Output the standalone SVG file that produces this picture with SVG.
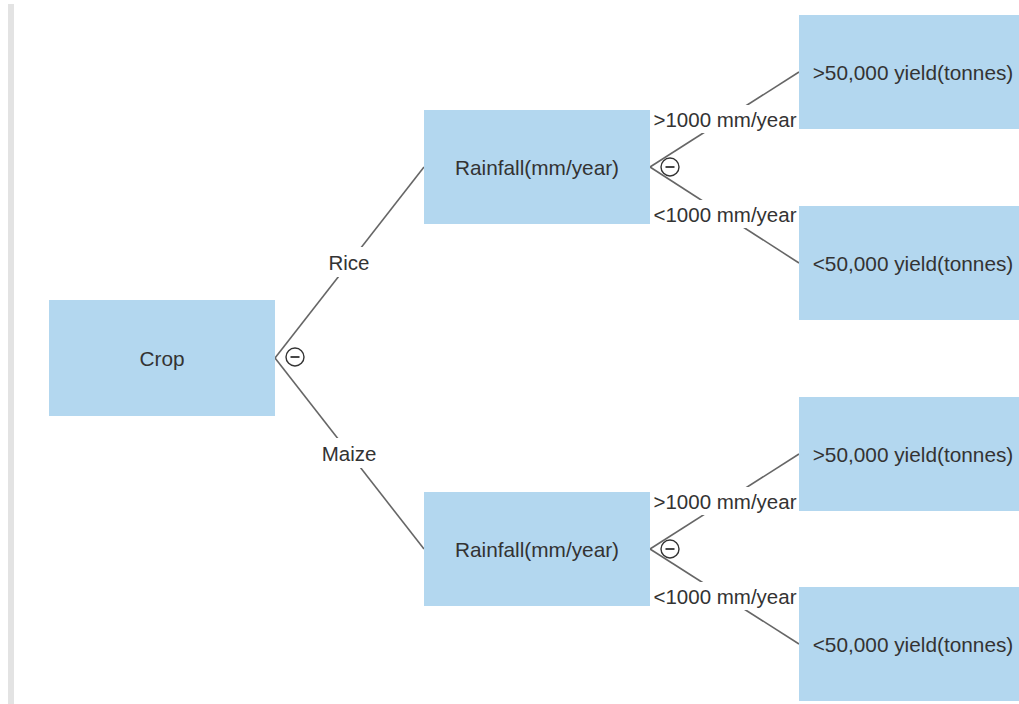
<svg xmlns="http://www.w3.org/2000/svg" width="1019" height="704" viewBox="0 0 1019 704">
  <style>
    .node rect { fill: #b3d7ef; }
    .node text { font-family: "Liberation Sans", Arial, sans-serif; font-size: 20.8px; fill: #333333; text-anchor: middle; dominant-baseline: central; }
    .edge line { stroke: #666666; stroke-width: 1.6; }
    .lbl rect { fill: #ffffff; }
    .lbl text { font-family: "Liberation Sans", Arial, sans-serif; font-size: 20.5px; fill: #333333; text-anchor: middle; dominant-baseline: central; }
    .toggle circle { fill: #ffffff; stroke: #333333; stroke-width: 1.4; }
    .toggle line { stroke: #333333; stroke-width: 1.8; }
  </style>
  <rect x="0" y="0" width="1019" height="704" fill="#ffffff"/>
  <rect x="8" y="4" width="6" height="700" fill="#e3e3e3"/>

  <g id="connectors">
    <g class="edge">
      <line x1="275" y1="358" x2="424" y2="167"/>
      <line x1="275" y1="358" x2="424" y2="549"/>
      <line x1="650" y1="167" x2="799" y2="72"/>
      <line x1="650" y1="167" x2="799" y2="263"/>
      <line x1="650" y1="549" x2="799" y2="454"/>
      <line x1="650" y1="549" x2="799" y2="644"/>
    </g>
    <g class="lbl">
      <rect x="326" y="247" width="46" height="30"/>
      <text x="349" y="262">Rice</text>
      <rect x="318" y="438" width="62" height="30"/>
      <text x="349" y="453">Maize</text>
      <rect x="652" y="105" width="146" height="28"/>
      <text x="725" y="119">&gt;1000 mm/year</text>
      <rect x="652" y="200" width="146" height="28"/>
      <text x="725" y="214">&lt;1000 mm/year</text>
      <rect x="652" y="487" width="146" height="28"/>
      <text x="725" y="501">&gt;1000 mm/year</text>
      <rect x="652" y="582" width="146" height="28"/>
      <text x="725" y="596">&lt;1000 mm/year</text>
    </g>
    <g class="toggle">
      <circle cx="295" cy="357" r="9"/><line x1="290.5" y1="357" x2="299.5" y2="357"/>
      <circle cx="670" cy="167" r="9"/><line x1="665.5" y1="167" x2="674.5" y2="167"/>
      <circle cx="670" cy="549" r="9"/><line x1="665.5" y1="549" x2="674.5" y2="549"/>
    </g>
  </g>

  <g id="crop" class="node">
    <rect x="49" y="300" width="226" height="116"/>
    <text x="162" y="358">Crop</text>
  </g>
  <g id="rainfall-rice" class="node">
    <rect x="424" y="110" width="226" height="114"/>
    <text x="537" y="167">Rainfall(mm/year)</text>
  </g>
  <g id="rainfall-maize" class="node">
    <rect x="424" y="492" width="226" height="114"/>
    <text x="537" y="549">Rainfall(mm/year)</text>
  </g>
  <g id="rice-high" class="node">
    <rect x="799" y="15" width="220" height="114"/>
    <text x="913" y="72">&gt;50,000 yield(tonnes)</text>
  </g>
  <g id="rice-low" class="node">
    <rect x="799" y="206" width="220" height="114"/>
    <text x="913" y="263">&lt;50,000 yield(tonnes)</text>
  </g>
  <g id="maize-high" class="node">
    <rect x="799" y="397" width="220" height="114"/>
    <text x="913" y="454">&gt;50,000 yield(tonnes)</text>
  </g>
  <g id="maize-low" class="node">
    <rect x="799" y="587" width="220" height="114"/>
    <text x="913" y="644">&lt;50,000 yield(tonnes)</text>
  </g>
</svg>
